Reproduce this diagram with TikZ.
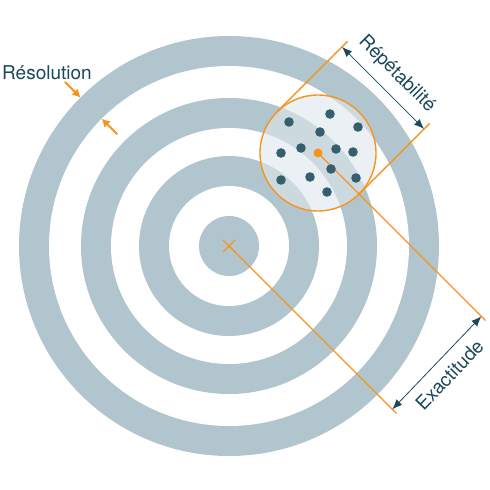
\documentclass[tikz,border=0pt]{standalone}
\usepackage{fontspec}
\setmainfont{TeX Gyre Heros}
\usepackage{tikz}
\usetikzlibrary{arrows.meta,calc}
\definecolor{ringgray}{RGB}{176,197,205}
\definecolor{tealdark}{RGB}{27,72,90}
\definecolor{dotteal}{RGB}{54,95,109}
\definecolor{orangemark}{RGB}{247,148,29}
\definecolor{clusterfill}{RGB}{222,232,236}

\begin{document}
\begin{tikzpicture}[x=1pt,y=1pt,
  orangeline/.style={draw=orangemark,line width=1.4pt},
  dimarrow/.style={draw=tealdark,line width=0.8pt,{Latex[length=10pt,width=8pt]}-{Latex[length=10pt,width=8pt]}},
  resarrow/.style={draw=orangemark,line width=2pt,-{Latex[length=8pt,width=9pt]}},
  dimlabel/.style={text=tealdark,inner sep=0pt,font=\fontsize{19}{21}\selectfont}]
\useasboundingbox (-229,-244) rectangle (261,246);
% target rings
\foreach \r/\c in {210/ringgray,180/white,148/ringgray,118/white,90/ringgray,60/white,30/ringgray}
  \fill[\c] (0,0) circle (\r pt);
\coordinate (O) at (0,0);
\coordinate (C) at (89,93);
% zone of the shots
\fill[clusterfill,fill opacity=0.62] (C) circle (58pt);
% exactitude
\draw[orangeline] (O) -- ++(-45:237) coordinate (Oend);
\draw[orangeline] (C) -- ++(-45:237) coordinate (Cend);
\coordinate (ea) at ($(O)+(-45:231)$);
\coordinate (eb) at ($(C)+(-45:231)$);
\draw[dimarrow] (ea) -- (eb) node[dimlabel,midway,sloped,below=10pt] (exact) {Exactitude};
% repetabilite
\coordinate (ta) at ($(C)+(135:58)$);
\coordinate (tb) at ($(C)+(-45:58)$);
\draw[orangeline] (ta) -- ++(45:100) coordinate (taend);
\draw[orangeline] (tb) -- ++(45:100) coordinate (tbend);
\coordinate (ra) at ($(ta)+(45:92)$);
\coordinate (rb) at ($(tb)+(45:92)$);
\draw[dimarrow] (ra) -- (rb) node[dimlabel,midway,sloped,above=10pt] (repet) {Répétabilité};
% shots
\foreach \p in {(60,124),(101,132),(129,119),(91,114),(72,98),(107,97),(124,94),
  (52,93),(102,77),(81,69),(127,68),(52,66),(98,54)}
  \fill[dotteal] \p circle (4.8pt);
\draw[orangeline] (C) circle (58pt);
\fill[orangemark] (C) circle (4.5pt);
% centre cross
\draw[orangeline] (-6,-6) -- (6,6) (-6,6) -- (6,-6);
% resolution
\node[dimlabel,anchor=west] (resol) at (-227,173) {Résolution};
\coordinate (r1) at (135:232);
\coordinate (r2) at (135:210);
\coordinate (r3) at (135:158);
\coordinate (r4) at (135:180);
\draw[resarrow] (r1) -- (r2);
\draw[resarrow] (r3) -- (r4);
\end{tikzpicture}
\end{document}
